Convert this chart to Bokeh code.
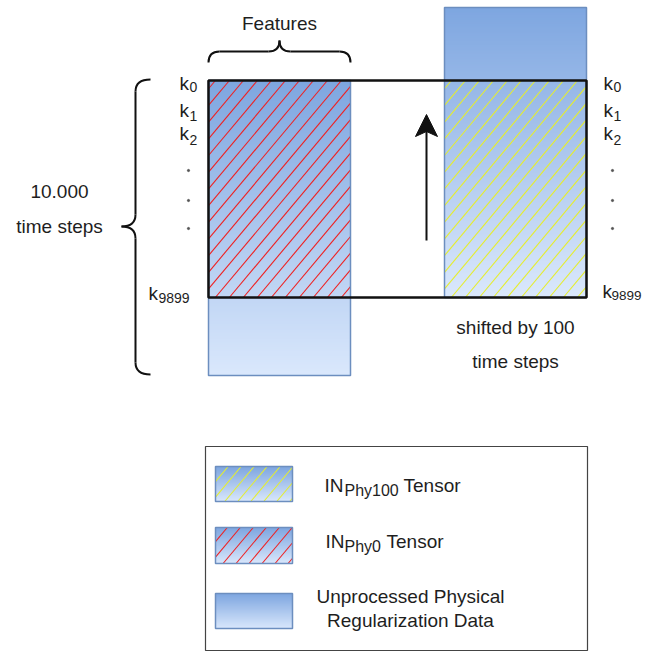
import numpy as np
from bokeh.plotting import figure
from bokeh.models import Range1d
from bokeh.embed import file_html
from bokeh.resources import INLINE
from bokeh.core.properties import value

# ---------------- content (labels) ----------------
top_label = "Features"
side_label_lines = ["10.000", "time steps"]
shift_label_lines = ["shifted by 100", "time steps"]
row_subscripts = ["0", "1", "2"]
last_row_subscript = "9899"
legend_labels = [("IN", "Phy100", "Tensor"), ("IN", "Phy0", "Tensor")]
legend_plain_lines = ["Unprocessed Physical", "Regularization Data"]

# ---------------- layout (pixel space of the picture) ----------------
left_col = (208, 350, 80, 375)      # x0, x1, y0, y1
right_col = (444, 586, 7, 297)
tensor_frame = (208, 586, 80, 297)
left_hatch = (208, 350, 80, 297)
right_hatch = (444, 586, 80, 297)
legend_frame = (205, 587, 446, 650)
swatches = [(215, 292, 466, 501), (215, 292, 527, 563), (215, 292, 593, 628)]

GRAD_TOP = np.array([126, 166, 224])
GRAD_BOT = np.array([218, 232, 252])
BORDER = "#6C8EBF"
TXT = "#1e1e1e"
RED = "#f02020"
YEL = "#e6ee2c"
FONT = value("Liberation Sans")
DY = -7  # text baseline correction

p = figure(width=645, height=652, x_range=Range1d(0, 645), y_range=Range1d(652, 0),
           output_backend="svg", toolbar_location=None, min_border=0)
p.axis.visible = False
p.grid.visible = False
p.outline_line_color = None
p.background_fill_color = "white"
p.border_fill_color = "white"


def hexcol(c):
    return "#%02x%02x%02x" % tuple(int(round(v)) for v in c)


def gradient(box, step=1.0):
    x0, x1, y0, y1 = box
    ys = np.arange(y0, y1, step)
    cols = [hexcol(GRAD_TOP + (GRAD_BOT - GRAD_TOP) * ((y - y0) / (y1 - y0))) for y in ys]
    p.quad(left=[x0] * len(ys), right=[x1] * len(ys), top=list(ys),
           bottom=list(np.minimum(ys + step + 0.7, y1)), fill_color=cols, line_color=None)


def outline(box, color, width):
    x0, x1, y0, y1 = box
    p.quad(left=[x0], right=[x1], top=[y0], bottom=[y1], fill_alpha=0,
           line_color=color, line_width=width)


def hatch(box, color, spacing=14.0, angle_deg=50.0, phase=7.0):
    # lines rising to the right on screen (screen y grows downward here)
    x0, x1, y0, y1 = box
    k = 1.0 / np.tan(np.radians(angle_deg))
    sx0, sy0, sx1, sy1 = [], [], [], []
    # each line: x = c + (y - y0) * k  (c = x where line meets the TOP edge)
    c = x0 - (y1 - y0) * k + phase
    while c < x1 + (y1 - y0) * k:
        # screen direction: x decreasing as y grows -> use x = c - (y - y0) * k
        ya = y0 + (c - x0) / k   # y where x == x0
        yb = y0 + (c - x1) / k   # y where x == x1
        lo, hi = max(y0, yb), min(y1, ya)
        if hi - lo > 0.5:
            sx0.append(c - (lo - y0) * k); sy0.append(lo)
            sx1.append(c - (hi - y0) * k); sy1.append(hi)
        c += spacing
    p.segment(x0=sx0, y0=sy0, x1=sx1, y1=sy1, line_color=color, line_width=1.1)


# columns
gradient(left_col)
gradient(right_col)
hatch(left_hatch, RED)
hatch(right_hatch, YEL)
outline(left_col, BORDER, 1.5)
outline(right_col, BORDER, 1.5)
outline(tensor_frame, "#111111", 2.5)

# braces
def brace_h(xa, xb, y_end, y_spine, y_tip):
    xm = (xa + xb) / 2
    r = 11
    p.quadratic(x0=[xa, xm - r, xm, xb - r], y0=[y_end, y_spine, y_tip, y_spine],
                x1=[xa + r, xm, xm + r, xb], y1=[y_spine, y_tip, y_spine, y_end],
                cx=[xa, xm, xm, xb], cy=[y_spine, y_spine, y_spine, y_spine],
                line_color="#111111", line_width=2)
    p.segment(x0=[xa + r, xm + r], y0=[y_spine, y_spine], x1=[xm - r, xb - r], y1=[y_spine, y_spine],
              line_color="#111111", line_width=2)


def brace_v(ya, yb, x_end, x_spine, x_tip):
    ym = (ya + yb) / 2 - 0.5
    r = 12
    p.quadratic(x0=[x_end, x_spine, x_tip, x_spine], y0=[ya, ym - r, ym, yb - r],
                x1=[x_spine, x_tip, x_spine, x_end], y1=[ya + r, ym, ym + r, yb],
                cx=[x_spine] * 4, cy=[ya, ym, ym, yb],
                line_color="#111111", line_width=2)
    p.segment(x0=[x_spine, x_spine], y0=[ya + r, ym + r], x1=[x_spine, x_spine], y1=[ym - r, yb - r],
              line_color="#111111", line_width=2)


brace_h(208, 350, 62, 51, 40)
brace_v(79, 374, 150, 135, 121)

# arrow
p.segment(x0=[426], y0=[240], x1=[426], y1=[128], line_color="#111111", line_width=2)
p.patch(x=[426, 415, 426, 437], y=[114, 136, 131, 136], fill_color="#111111", line_color="#111111",
        line_width=1)

# texts
def txt(x, y, s, size, align="left"):
    p.text(x=[x], y=[y + DY], text=[s], text_font=FONT, text_font_size=size, text_color=TXT,
           text_align=align, text_baseline="alphabetic")


txt(279, 30, top_label, "19px", "center")
txt(59, 198, side_label_lines[0], "19px", "center")
txt(59, 233, side_label_lines[1], "19px", "center")
txt(515, 334, shift_label_lines[0], "19px", "center")
txt(515, 368, shift_label_lines[1], "19px", "center")

row_base = [90, 117, 140]
row_sub = [93, 122, 146]
for kx in (179, 603):
    for sub, yb, ys in zip(row_subscripts, row_base, row_sub):
        txt(kx, yb, "k", "19px")
        txt(kx + 10, ys, sub, "14px")
    p.scatter(x=[kx + 9] * 3, y=[170, 200, 228], size=2.2, color="#555555")
txt(148, 300, "k", "19px")
txt(158, 304, last_row_subscript, "14px")
txt(602, 298, "k", "19px")
txt(611, 302, last_row_subscript, "13.5px")

# legend
outline(legend_frame, "#444444", 1.2)
for sw in swatches:
    gradient(sw)
hatch(swatches[0], YEL, spacing=13.0, phase=3.0)
hatch(swatches[1], RED, spacing=13.0, phase=3.0)
for sw in swatches:
    outline(sw, BORDER, 1.5)

leg_pos = [(324, 492, 344, 497, 403), (325, 548, 344, 553, 386)]
for (main, sub, tail), (xm, yb, xs, ys, xt) in zip(legend_labels, leg_pos):
    txt(xm, yb, main, "19px")
    txt(xs, ys, sub, "16px")
    txt(xt, yb, tail, "19px")
txt(410, 603, legend_plain_lines[0], "19px", "center")
txt(410, 627, legend_plain_lines[1], "19px", "center")

open("out.html", "w").write(file_html(p, INLINE))
